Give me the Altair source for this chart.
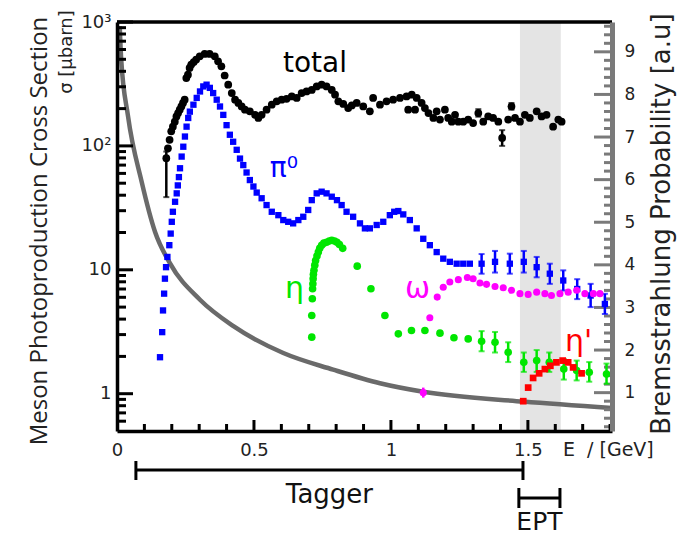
import altair as alt
import pandas as pd

# ---------------- data ----------------
# photon energy E [GeV] and cross section sigma [microbarn]
total_E = [
    0.180, 0.186, 0.192, 0.198, 0.204, 0.211, 0.217, 0.223, 0.229, 0.235,
    0.241, 0.247, 0.253, 0.259, 0.265, 0.271, 0.280, 0.289, 0.302, 0.320,
    0.338, 0.357, 0.369, 0.381, 0.393, 0.406, 0.419, 0.431, 0.443, 0.455,
    0.467, 0.485, 0.504, 0.516, 0.528, 0.546, 0.565, 0.583, 0.601, 0.619,
    0.638, 0.656, 0.674, 0.692, 0.711, 0.729, 0.747, 0.765, 0.784, 0.796,
    0.808, 0.826, 0.844, 0.857, 0.875, 0.899, 0.923, 0.935, 0.960, 0.984,
    1.008, 1.033, 1.057, 1.063, 1.076, 1.088, 1.094, 1.112, 1.124, 1.137,
    1.155, 1.167, 1.179, 1.197, 1.209, 1.222, 1.234, 1.246, 1.264, 1.282,
    1.300, 1.319, 1.337, 1.355, 1.373, 1.392, 1.406, 1.428, 1.440, 1.453,
    1.471, 1.489, 1.507, 1.532, 1.550, 1.568, 1.592, 1.611, 1.623,
]
total_sigma = [
    79.5, 95.7, 112, 131, 143, 157, 173, 184, 196, 208,
    222, 236, 353, 376, 426, 453, 475, 497, 528, 552,
    552, 528, 482, 439, 370, 312, 267, 236, 222, 208,
    196, 190, 178, 168, 178, 196, 215, 229, 236, 240,
    251, 244, 267, 275, 283, 302, 312, 302, 283, 259,
    229, 218, 202, 212, 222, 208, 190, 244, 215, 229,
    236, 244, 251, 196, 259, 196, 244, 222, 202, 184,
    168, 190, 163, 196, 168, 157, 178, 157, 157, 163,
    153, 184, 157, 173, 168, 157, 116, 163, 208, 168,
    157, 178, 168, 190, 173, 178, 143, 163, 157,
]
total_err_E = [0.180, 1.319, 1.406, 1.440]
total_err_lo = [38.6, 172, 100, 196]
total_err_hi = [90, 198, 134, 222]

pi0_E = [
    0.157, 0.165, 0.168, 0.172, 0.175, 0.179, 0.184, 0.191, 0.196, 0.200,
    0.204, 0.212, 0.218, 0.222, 0.226, 0.230, 0.236, 0.242, 0.248, 0.254,
    0.260, 0.266, 0.279, 0.291, 0.303, 0.315, 0.327, 0.339, 0.351, 0.364,
    0.376, 0.388, 0.400, 0.412, 0.424, 0.437, 0.449, 0.461, 0.473, 0.485,
    0.498, 0.510, 0.528, 0.546, 0.565, 0.589, 0.607, 0.625, 0.643, 0.662,
    0.680, 0.698, 0.711, 0.729, 0.747, 0.765, 0.784, 0.803, 0.820, 0.838,
    0.862, 0.887, 0.905, 0.923, 0.948, 0.972, 0.996, 1.012, 1.027, 1.045,
    1.069, 1.094, 1.118, 1.142, 1.167, 1.191, 1.215, 1.240, 1.264, 1.288,
    1.331, 1.380, 1.434, 1.485, 1.532, 1.580, 1.629, 1.680, 1.729, 1.781,
]
pi0_sigma = [
    1.97, 3.14, 4.7, 6.42, 8.48, 10.5, 12.7, 15.8, 19.6, 24.4,
    29.4, 35.4, 41.4, 48, 56, 66, 82, 98.5, 119, 143,
    168, 189, 215, 244, 275, 302, 312, 294, 267, 236,
    208, 178, 147, 123, 108, 93, 79, 70, 61, 53,
    47, 42, 37.8, 33.3, 29.4, 27.6, 25.2, 24.4, 23.7, 25.2,
    26.8, 30.4, 36.5, 41.4, 42.7, 41.4, 38.9, 36.5, 33.3, 29.4,
    26.8, 23.7, 21.6, 21.6, 23.0, 24.4, 27.6, 29.4, 29.8, 28.0,
    25.2, 21.6, 17.8, 15.8, 13.9, 12.3, 11.6, 11.2, 11.2, 11.2,
    11.2, 11.6, 11.2, 11.6, 10.5, 9.3, 8.2, 7.0, 6.2, 5.3,
]
pi0_err_E = [1.331, 1.380, 1.434, 1.485, 1.532, 1.580, 1.629, 1.680, 1.729, 1.781]
pi0_err_lo = [9.3, 9.5, 9.3, 9.5, 8.7, 7.7, 6.8, 5.8, 5.0, 4.4]
pi0_err_hi = [13.4, 14.2, 13.5, 14.2, 12.7, 11.2, 9.9, 8.4, 7.7, 6.4]

eta_E = [
    0.711, 0.711, 0.713, 0.714, 0.715, 0.716, 0.717, 0.719, 0.722, 0.725,
    0.730, 0.735, 0.740, 0.747, 0.755, 0.765, 0.775, 0.784, 0.794, 0.803,
    0.812, 0.824, 0.877, 0.927, 0.978, 1.027, 1.075, 1.124, 1.179, 1.230,
    1.282, 1.331, 1.380, 1.428, 1.485, 1.532, 1.578, 1.631, 1.678, 1.724,
    1.787,
]
eta_sigma = [
    2.86, 4.28, 5.84, 7.03, 7.7, 8.48, 9.2, 9.9, 10.9, 11.9,
    12.9, 13.9, 14.9, 15.8, 16.4, 16.7, 17.1, 17.3, 17.1, 16.7,
    16.0, 14.9, 10.7, 7.03, 4.28, 3.04, 3.24, 3.24, 3.08, 2.83,
    2.77, 2.65, 2.60, 2.16, 1.79, 1.85, 1.79, 1.58, 1.54, 1.49,
    1.44,
]
eta_err_E = [1.331, 1.380, 1.428, 1.485, 1.532, 1.578, 1.631, 1.678, 1.724, 1.787]
eta_err_lo = [2.2, 2.15, 1.8, 1.5, 1.5, 1.5, 1.3, 1.28, 1.25, 1.2]
eta_err_hi = [3.2, 3.15, 2.6, 2.15, 2.25, 2.15, 1.9, 1.85, 1.8, 1.75]

omega_E = [
    1.118, 1.142, 1.169, 1.191, 1.215, 1.246, 1.279, 1.300, 1.325, 1.349,
    1.380, 1.410, 1.440, 1.471, 1.501, 1.532, 1.562, 1.586, 1.617, 1.647,
    1.678, 1.708, 1.739, 1.763,
]
omega_sigma = [
    1.02, 4.10, 6.02, 7.24, 7.96, 8.33, 8.66, 8.48, 7.82, 7.63,
    7.34, 7.16, 6.83, 6.42, 6.33, 6.60, 6.42, 6.20, 6.42, 6.60,
    6.83, 6.42, 6.42, 6.42,
]
omega_err_E = [1.118]
omega_err_lo = [0.93]
omega_err_hi = [1.12]

etap_E = [1.483, 1.501, 1.519, 1.541, 1.562, 1.582, 1.604, 1.627, 1.647, 1.665, 1.696]
etap_sigma = [0.87, 1.12, 1.34, 1.46, 1.58, 1.68, 1.79, 1.85, 1.79, 1.63, 1.46]

# bremsstrahlung photon spectrum, arbitrary units (right axis)
brems_E = [0.010, 0.015, 0.040, 0.090, 0.139, 0.193, 0.303, 0.425,
           0.607, 0.789, 0.960, 1.118, 1.483, 1.807]
brems_p = [9.6, 8.86, 7.5, 5.95, 4.77, 4.04, 3.18, 2.56,
           1.93, 1.54, 1.22, 1.02, 0.79, 0.64]

# tagged photon energy ranges [GeV]
tagger_range = [0.069, 1.482]
ept_range = [1.467, 1.617]
ept_band = [1.471, 1.620]

# channel labels
label_text = ["total", "π⁰", "η", "ω", "η'"]
label_E = [0.606, 0.558, 0.613, 1.051, 1.635]
label_sigma = [397, 56.1, 5.88, 5.88, 2.23]
label_color = ["#000000", "#0000ff", "#00e600", "#ff00ff", "#ff0000"]
label_size = [28, 28, 30, 30, 30]

# axis ticks
sig_major = [1, 10, 100, 1000]
sig_minor = [round(m * 10 ** k, 3) for k in range(-1, 3) for m in range(2, 10)
             if 0.5 < m * 10 ** k < 1000]
e_major = [0.5, 1.0, 1.5]
e_minor = [round(0.1 * i, 1) for i in range(1, 19) if i % 5 != 0]
p_major = list(range(1, 10))
p_minor = [round(0.2 * i, 1) for i in range(1, 49) if i % 5 != 0]

# ---------------- chart ----------------
W, H = 495, 409
FONT = "DejaVu Sans"

x_scale = alt.Scale(domain=[0, 1.807], nice=False, zero=False)
sig_scale = alt.Scale(type="log", domain=[0.5, 1000], nice=False)
p_scale = alt.Scale(domain=[0.1, 9.7], nice=False, zero=False)


def X(f, axis=alt.Undefined):
    return alt.X(f, type="quantitative", scale=x_scale, axis=axis)


def S(f, axis=alt.Undefined):
    return alt.Y(f, type="quantitative", scale=sig_scale, axis=axis)


def P(f, axis=alt.Undefined):
    return alt.Y(f, type="quantitative", scale=p_scale, axis=axis)


def one_row():
    return pd.DataFrame({"k": [0]})


def points(E, s, color, shape, size):
    df = pd.DataFrame({"E": E, "s": s})
    return alt.Chart(df).mark_point(
        filled=True, shape=shape, size=size, color=color, opacity=1, strokeWidth=0
    ).encode(x=X("E"), y=S("s"))


def errbars(E, lo, hi, color, caps=True):
    df = pd.DataFrame({"E": E, "lo": lo, "hi": hi})
    base = alt.Chart(df)
    out = [base.mark_rule(color=color, strokeWidth=2.5).encode(
        x=X("E"), y=S("lo"), y2=alt.Y2("hi"))]
    if caps:
        for end in ("lo", "hi"):
            out.append(base.mark_tick(color=color, orient="horizontal", size=6,
                                      thickness=2).encode(x=X("E"), y=S(end)))
    return out


left_axis = alt.Axis(
    orient="left", values=sig_major, ticks=False, grid=False, title=None,
    labelExpr="datum.value >= 1000 ? '10³' : datum.value >= 100 ? '10²' : datum.value >= 10 ? '10' : '1'",
    domainColor="black", domainWidth=3.5, labelFont=FONT, labelFontSize=18,
    labelColor="#222222", labelPadding=6, labelOverlap=False, labelFlush=False, zindex=2,
)
bottom_axis = alt.Axis(
    orient="bottom", values=[0, 0.5, 1, 1.5], ticks=False, grid=False, title=None,
    labelExpr="'' + datum.value", domainColor="black", domainWidth=3.5,
    labelFont=FONT, labelFontSize=18, labelColor="#222222", labelPadding=10,
    labelFlush=False, labelOverlap=False, zindex=2,
)
right_axis = alt.Axis(
    orient="right", values=p_major, ticks=False, grid=False, title=None,
    domainColor="#7a7a7a", domainWidth=5, labelFont=FONT, labelFontSize=17,
    labelColor="#222222", labelPadding=12, labelFlush=False, labelOverlap=False,
    zindex=2,
)

# ---- right-hand group: EPT band, bremsstrahlung spectrum and its ticks ----
band = alt.Chart(pd.DataFrame({"a": [ept_band[0]], "b": [ept_band[1]]})).mark_rect(
    color="#e4e4e4").encode(x=X("a"), x2=alt.X2("b"), y=alt.value(0), y2=alt.value(H))
brems_curve = alt.Chart(pd.DataFrame({"E": brems_E, "p": brems_p})).mark_line(
    color="#6a6a6a", strokeWidth=4.5, interpolate="monotone").encode(
    x=X("E"), y=P("p", right_axis))
p_major_ticks = alt.Chart(pd.DataFrame({"v": p_major})).mark_rule(
    color="#7a7a7a", strokeWidth=3).encode(y=P("v"), x=alt.value(W), x2=alt.value(W - 18))
p_minor_ticks = alt.Chart(pd.DataFrame({"v": p_minor})).mark_rule(
    color="#7a7a7a", strokeWidth=3).encode(y=P("v"), x=alt.value(W), x2=alt.value(W - 8))
right = alt.layer(band, brems_curve, p_minor_ticks, p_major_ticks)

# ---- left-hand group: cross sections on the log axis ----
# axis carriers come first so their settings lead the merge
sig_major_ticks = alt.Chart(pd.DataFrame({"v": sig_major})).mark_rule(
    color="black", strokeWidth=3).encode(y=S("v", left_axis), x=alt.value(0), x2=alt.value(16))
e_major_ticks = alt.Chart(pd.DataFrame({"v": e_major})).mark_rule(
    color="black", strokeWidth=3).encode(x=X("v", bottom_axis), y=alt.value(H), y2=alt.value(H - 11))
sig_minor_ticks = alt.Chart(pd.DataFrame({"v": sig_minor})).mark_rule(
    color="black", strokeWidth=3).encode(y=S("v"), x=alt.value(0), x2=alt.value(9))
e_minor_ticks = alt.Chart(pd.DataFrame({"v": e_minor})).mark_rule(
    color="black", strokeWidth=3).encode(x=X("v"), y=alt.value(H), y2=alt.value(H - 7))
top_border = alt.Chart(one_row()).mark_rule(color="black", strokeWidth=3.5).encode(
    x=alt.value(0), x2=alt.value(W), y=alt.value(0))

labels = alt.Chart(pd.DataFrame({
    "E": label_E, "s": label_sigma, "txt": label_text, "col": label_color, "fs": label_size,
})).mark_text(align="left", baseline="alphabetic", font=FONT).encode(
    x=X("E"), y=S("s"), text="txt:N",
    color=alt.Color("col:N", scale=None), size=alt.Size("fs:Q", scale=None))

# tagger / EPT coverage bars below the energy axis
tagger_bar = alt.Chart(pd.DataFrame({"a": [tagger_range[0]], "b": [tagger_range[1]]})).mark_rule(
    color="black", strokeWidth=3).encode(x=X("a"), x2=alt.X2("b"), y=alt.value(H + 39))
tagger_caps = alt.Chart(pd.DataFrame({"e": tagger_range})).mark_rule(
    color="black", strokeWidth=3).encode(x=X("e"), y=alt.value(H + 30), y2=alt.value(H + 49))
ept_bar = alt.Chart(pd.DataFrame({"a": [ept_range[0]], "b": [ept_range[1]]})).mark_rule(
    color="black", strokeWidth=3).encode(x=X("a"), x2=alt.X2("b"), y=alt.value(H + 67))
ept_caps = alt.Chart(pd.DataFrame({"e": ept_range})).mark_rule(
    color="black", strokeWidth=3).encode(x=X("e"), y=alt.value(H + 57), y2=alt.value(H + 77))
tagger_text = alt.Chart(pd.DataFrame({"E": [(tagger_range[0] + tagger_range[1]) / 2]})).mark_text(
    align="center", baseline="alphabetic", font=FONT, fontSize=26, color="#111111").encode(
    x=X("E"), y=alt.value(H + 72), text=alt.value("Tagger"))
ept_text = alt.Chart(pd.DataFrame({"E": [(ept_range[0] + ept_range[1]) / 2]})).mark_text(
    align="center", baseline="alphabetic", font=FONT, fontSize=25, color="#111111").encode(
    x=X("E"), y=alt.value(H + 99), text=alt.value("EPT"))

e_unit = alt.Chart(pd.DataFrame({"E": [1.628]})).mark_text(
    align="left", baseline="alphabetic", font=FONT, fontSize=19, color="#222222").encode(
    x=X("E"), y=alt.value(H + 25), text=alt.value("E\u00a0\u00a0/ [GeV]"))

left_title = alt.Chart(one_row()).mark_text(
    angle=270, align="center", baseline="alphabetic", font="Open Sans", fontSize=24,
    color="#222222").encode(x=alt.value(-70), y=alt.value(209),
                            text=alt.value("Meson Photoproduction Cross Section"))
left_sub = alt.Chart(one_row()).mark_text(
    angle=270, align="center", baseline="alphabetic", font=FONT, fontSize=18,
    color="#222222").encode(x=alt.value(-45), y=alt.value(30), text=alt.value("σ [μbarn]"))
right_title = alt.Chart(one_row()).mark_text(
    angle=270, align="center", baseline="alphabetic", font=FONT, fontSize=26,
    color="#222222").encode(x=alt.value(553), y=alt.value(202),
                            text=alt.value("Bremsstrahlung Probability [a.u]"))

left_layers = [sig_major_ticks, e_major_ticks, sig_minor_ticks, e_minor_ticks]
left_layers += errbars(total_err_E, total_err_lo, total_err_hi, "#000000")
left_layers += errbars(pi0_err_E, pi0_err_lo, pi0_err_hi, "#0000ff")
left_layers += errbars(eta_err_E, eta_err_lo, eta_err_hi, "#00e600")
left_layers += errbars(omega_err_E, omega_err_lo, omega_err_hi, "#ff00ff", caps=False)
left_layers += [
    points(total_E, total_sigma, "#000000", "circle", 60),
    points(pi0_E, pi0_sigma, "#0000ff", "square", 40),
    points(eta_E, eta_sigma, "#00e600", "circle", 58),
    points(omega_E, omega_sigma, "#ff00ff", "circle", 50),
    points(etap_E, etap_sigma, "#ff0000", "square", 45),
    labels, top_border, tagger_bar, tagger_caps, ept_bar, ept_caps, tagger_text, ept_text,
    e_unit, left_title, left_sub, right_title,
]
left = alt.layer(*left_layers)

chart = alt.layer(right, left).resolve_scale(y="independent").properties(
    width=W, height=H,
    padding={"left": 117, "top": 22, "right": 75, "bottom": 105},
    autosize=alt.AutoSizeParams(type="none"),
).configure_view(stroke=None).configure(font=FONT)

chart.save("out.html", embed_options={"renderer": "svg", "actions": False})
